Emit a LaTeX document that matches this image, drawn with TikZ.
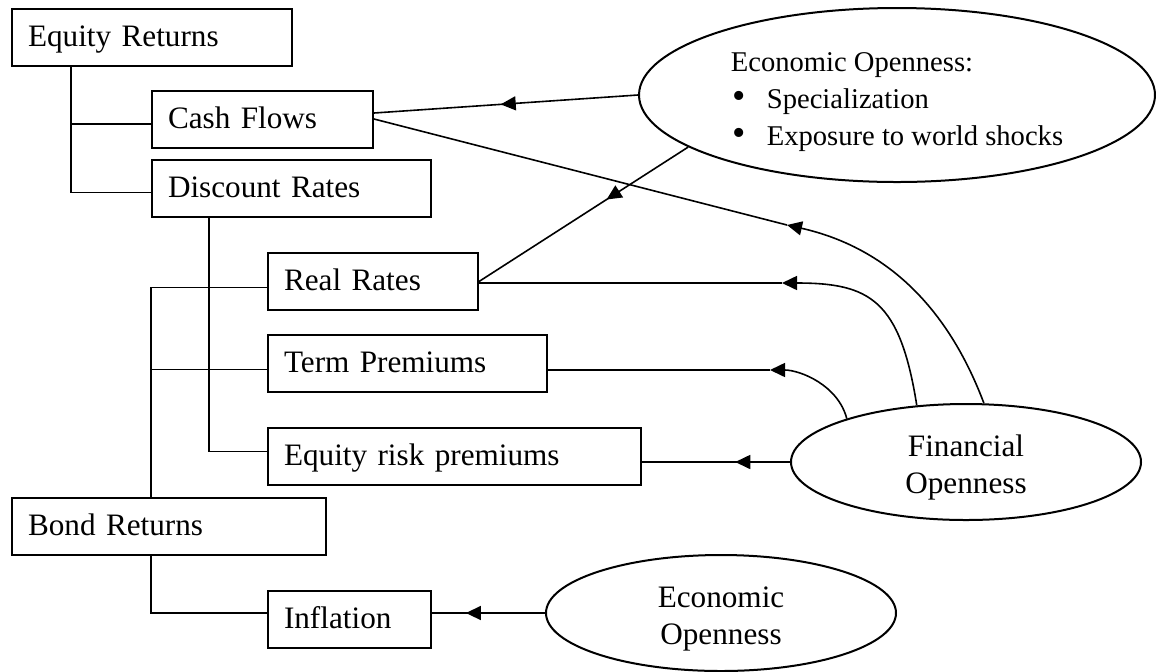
\documentclass[tikz,border=0pt]{standalone}
\usepackage{fontspec}
\setmainfont{Liberation Serif}
\usetikzlibrary{shapes.geometric,arrows.meta,decorations.markings}
\newcommand{\bigdot}{\smash{\fontsize{19}{18}\selectfont\textbullet}}

\begin{document}
\begin{tikzpicture}[x=0.5pt,y=-0.5pt,line width=0.8pt,
	box/.style={draw, rectangle, line width=1pt, minimum height=28.5pt, inner xsep=8pt, inner ysep=0pt, text height=10.7pt, text depth=1.5pt, align=left, font=\fontsize{15.6}{18.5}\selectfont},
	oval/.style={draw, ellipse, line width=1pt, inner sep=0pt, minimum width=175pt, minimum height=58pt, text height=35pt, text depth=3.5pt, align=center, font=\fontsize{15.6}{18.5}\selectfont},
	tipped/.style={-{Triangle[length=7.5pt,width=7pt]}},
	midarrow/.style={postaction={decorate}, decoration={markings, mark=at position #1 with {\arrow{Triangle[length=7.5pt,width=7pt]}}}}]
		\useasboundingbox (0,0) rectangle (1156,671);
		% boxes
		\node[box, text width=124pt] (ER) at (152,37.5) {Equity Returns};
		\node[box, text width=94.5pt] (CF) at (262.5,119) {Cash Flows};
		\node[box, text width=123.5pt] (DR) at (291.5,188.5) {Discount Rates};
		\node[box, text width=89pt] (RR) at (373,281.5) {Real Rates};
		\node[box, text width=123.5pt] (TP) at (407.5,363.5) {Term Premiums};
		\node[box, text width=170.5pt] (ERP) at (454.5,456.5) {Equity risk premiums};
		\node[box, text width=141pt] (BR) at (169,526.5) {Bond Returns};
		\node[box, text width=65.5pt] (INF) at (349.5,619) {Inflation};
		% ovals
		\node[oval, minimum width=258pt, minimum height=87pt, text height=54pt, text depth=3.5pt, align=left, font=\fontsize{14.3}{18.5}\selectfont] (EO) at (897,95) {Economic Openness:\\ \hspace*{1pt}\makebox[17pt][l]{\bigdot}Specialization\\ \hspace*{1pt}\makebox[17pt][l]{\bigdot}Exposure to world shocks};
		\node[oval] (FO) at (966,462) {Financial\\Openness};
		\node[oval] (EO2) at (721,613) {Economic\\Openness};
		% tree lines
		\draw ([xshift=30pt]ER.south west) |- ([yshift=-2.5pt]CF.west);
		\draw ([xshift=30pt]ER.south west) |- ([yshift=-2pt]DR.west);
		\draw ([xshift=29pt]DR.south west) |- ([yshift=2.5pt]ERP.west);
		\draw ([xshift=70pt]BR.north west) |- ([yshift=-3pt]RR.west);
		\draw ([xshift=70pt]BR.north west) |- ([yshift=-3pt]TP.west);
		\draw ([xshift=70pt]BR.south west) |- ([yshift=3pt]INF.west);
		% influences
		\coordinate (kCF) at (787,225);
		\coordinate (kRR) at (782,283);
		\coordinate (kTP) at (770,370);
		\draw[midarrow=0.52] (EO.west) -- ([yshift=3pt]CF.east);
		\draw[midarrow=0.39] (EO.194) -- (RR.east);
		\draw[tipped] (FO.73) .. controls (945,300) and (880,246) .. (kCF);
		\draw (kCF) -- (CF.east);
		\draw[tipped] (FO.131) .. controls (900,300) and (870,283) .. (kRR);
		\draw (kRR) -- (kRR -| RR.east);
		\draw[tipped] (FO.160) .. controls (838,385) and (800,370) .. (kTP);
		\draw (kTP) -- (kTP -| TP.east);
		\draw[midarrow=0.37] (FO.west) -- (FO.west -| ERP.east);
		\draw[midarrow=0.7] (EO2.west) -- (EO2.west -| INF.east);
\end{tikzpicture}
\end{document}
